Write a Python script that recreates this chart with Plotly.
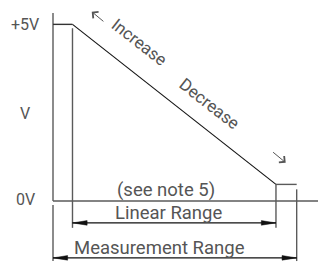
import plotly.graph_objects as go

# ---- data (positions along travel, arbitrary units; output in volts) ----
v_levels = [5.0, 0.47]            # high / low output plateau
v_labels = ["+5V", "V", "0V"]
v_label_pos = [5.0, 2.48, 0.03]
meas_range = [0.0, 100.0]         # measurement range start / end
lin_range = [8.0, 91.5]           # linear range start / end
curve_x = [meas_range[0], lin_range[0], lin_range[1], meas_range[1]]
curve_y = [v_levels[0], v_levels[0], v_levels[1], v_levels[1]]
range_labels = ["(see note 5)", "Linear Range", "Measurement Range"]
dir_labels = ["Increase", "Decrease"]

X_RANGE = [-21.75, 108.75]
Y_RANGE = [-1.84, 5.69]

GRAY = "#5a5a5a"
TXT = "#555555"
FONT = "Roboto"

fig = go.Figure()

def seg(xs, ys, color=GRAY, width=1.4):
    fig.add_trace(go.Scatter(x=xs, y=ys, mode="lines",
                             line=dict(color=color, width=width),
                             hoverinfo="skip", showlegend=False))

# axes
seg([meas_range[0], meas_range[0]], [0.0, 5.32])          # y axis
seg([meas_range[0], X_RANGE[1]], [0.0, 0.0])              # x axis
# extension lines
seg([meas_range[0], meas_range[0]], [-0.11, -1.70])
seg([lin_range[0], lin_range[0]], [4.89, -0.76])
seg([lin_range[1], lin_range[1]], [v_levels[1], -0.76])
seg([meas_range[1], meas_range[1]], [v_levels[1] - 0.14, -1.70])
# output curve
fig.add_trace(go.Scatter(x=curve_x[:2], y=curve_y[:2], mode="lines",
                         line=dict(color="#333333", width=1.4),
                         hoverinfo="skip", showlegend=False))
fig.add_trace(go.Scatter(x=curve_x[1:3], y=curve_y[1:3], mode="lines",
                         line=dict(color="#111111", width=1.1),
                         hoverinfo="skip", showlegend=False))
seg(curve_x[2:], curve_y[2:], color=GRAY, width=1.4)

# dimension arrows (line + long narrow filled heads)
HEAD_L, HEAD_H = 6.0, 0.065
for y, (a, b) in [(-0.62, lin_range), (-1.61, meas_range)]:
    seg([a, b], [y, y], color="#111111", width=1.2)
    for tip, d in [(a, 1), (b, -1)]:
        fig.add_trace(go.Scatter(
            x=[tip, tip + d * HEAD_L, tip + d * HEAD_L, tip],
            y=[y, y + HEAD_H, y - HEAD_H, y],
            mode="lines", fill="toself", fillcolor="#111111",
            line=dict(color="#111111", width=0.5),
            hoverinfo="skip", showlegend=False))

# range labels
for txt, (x, y) in zip(range_labels, [(46.2, 0.31), (47.2, -0.33), (43.9, -1.32)]):
    fig.add_annotation(x=x, y=y, text=txt, showarrow=False,
                       font=dict(family=FONT, size=18.5, color=TXT))

# voltage labels
for txt, y in zip(v_labels, v_label_pos):
    fig.add_annotation(x=-11.4, y=y, text=txt, showarrow=False,
                       font=dict(family=FONT, size=16, color=TXT))

# direction labels
for txt, (x, y) in zip(dir_labels, [(35.4, 4.50), (64.4, 2.746)]):
    fig.add_annotation(x=x, y=y, text=txt, showarrow=False, textangle=38,
                       font=dict(family=FONT, size=17, color=TXT))

# small direction arrows
fig.add_annotation(x=15.9, y=5.36, ax=21.3, ay=5.05, xref="x", yref="y",
                   axref="x", ayref="y", text="", showarrow=True,
                   arrowhead=4, arrowsize=1.6, arrowwidth=1.0, arrowcolor=TXT)
fig.add_annotation(x=95.5, y=1.085, ax=89.7, ay=1.416, xref="x", yref="y",
                   axref="x", ayref="y", text="", showarrow=True,
                   arrowhead=4, arrowsize=1.6, arrowwidth=1.0, arrowcolor=TXT)

fig.update_xaxes(range=X_RANGE, visible=False, fixedrange=True)
fig.update_yaxes(range=Y_RANGE, visible=False, fixedrange=True)
fig.update_layout(width=318, height=266, margin=dict(l=0, r=0, t=0, b=0),
                  paper_bgcolor="white", plot_bgcolor="white")

fig.write_html("out.html", config={"displayModeBar": False},
               post_script="document.body.style.margin='0';document.body.style.overflow='hidden';")
